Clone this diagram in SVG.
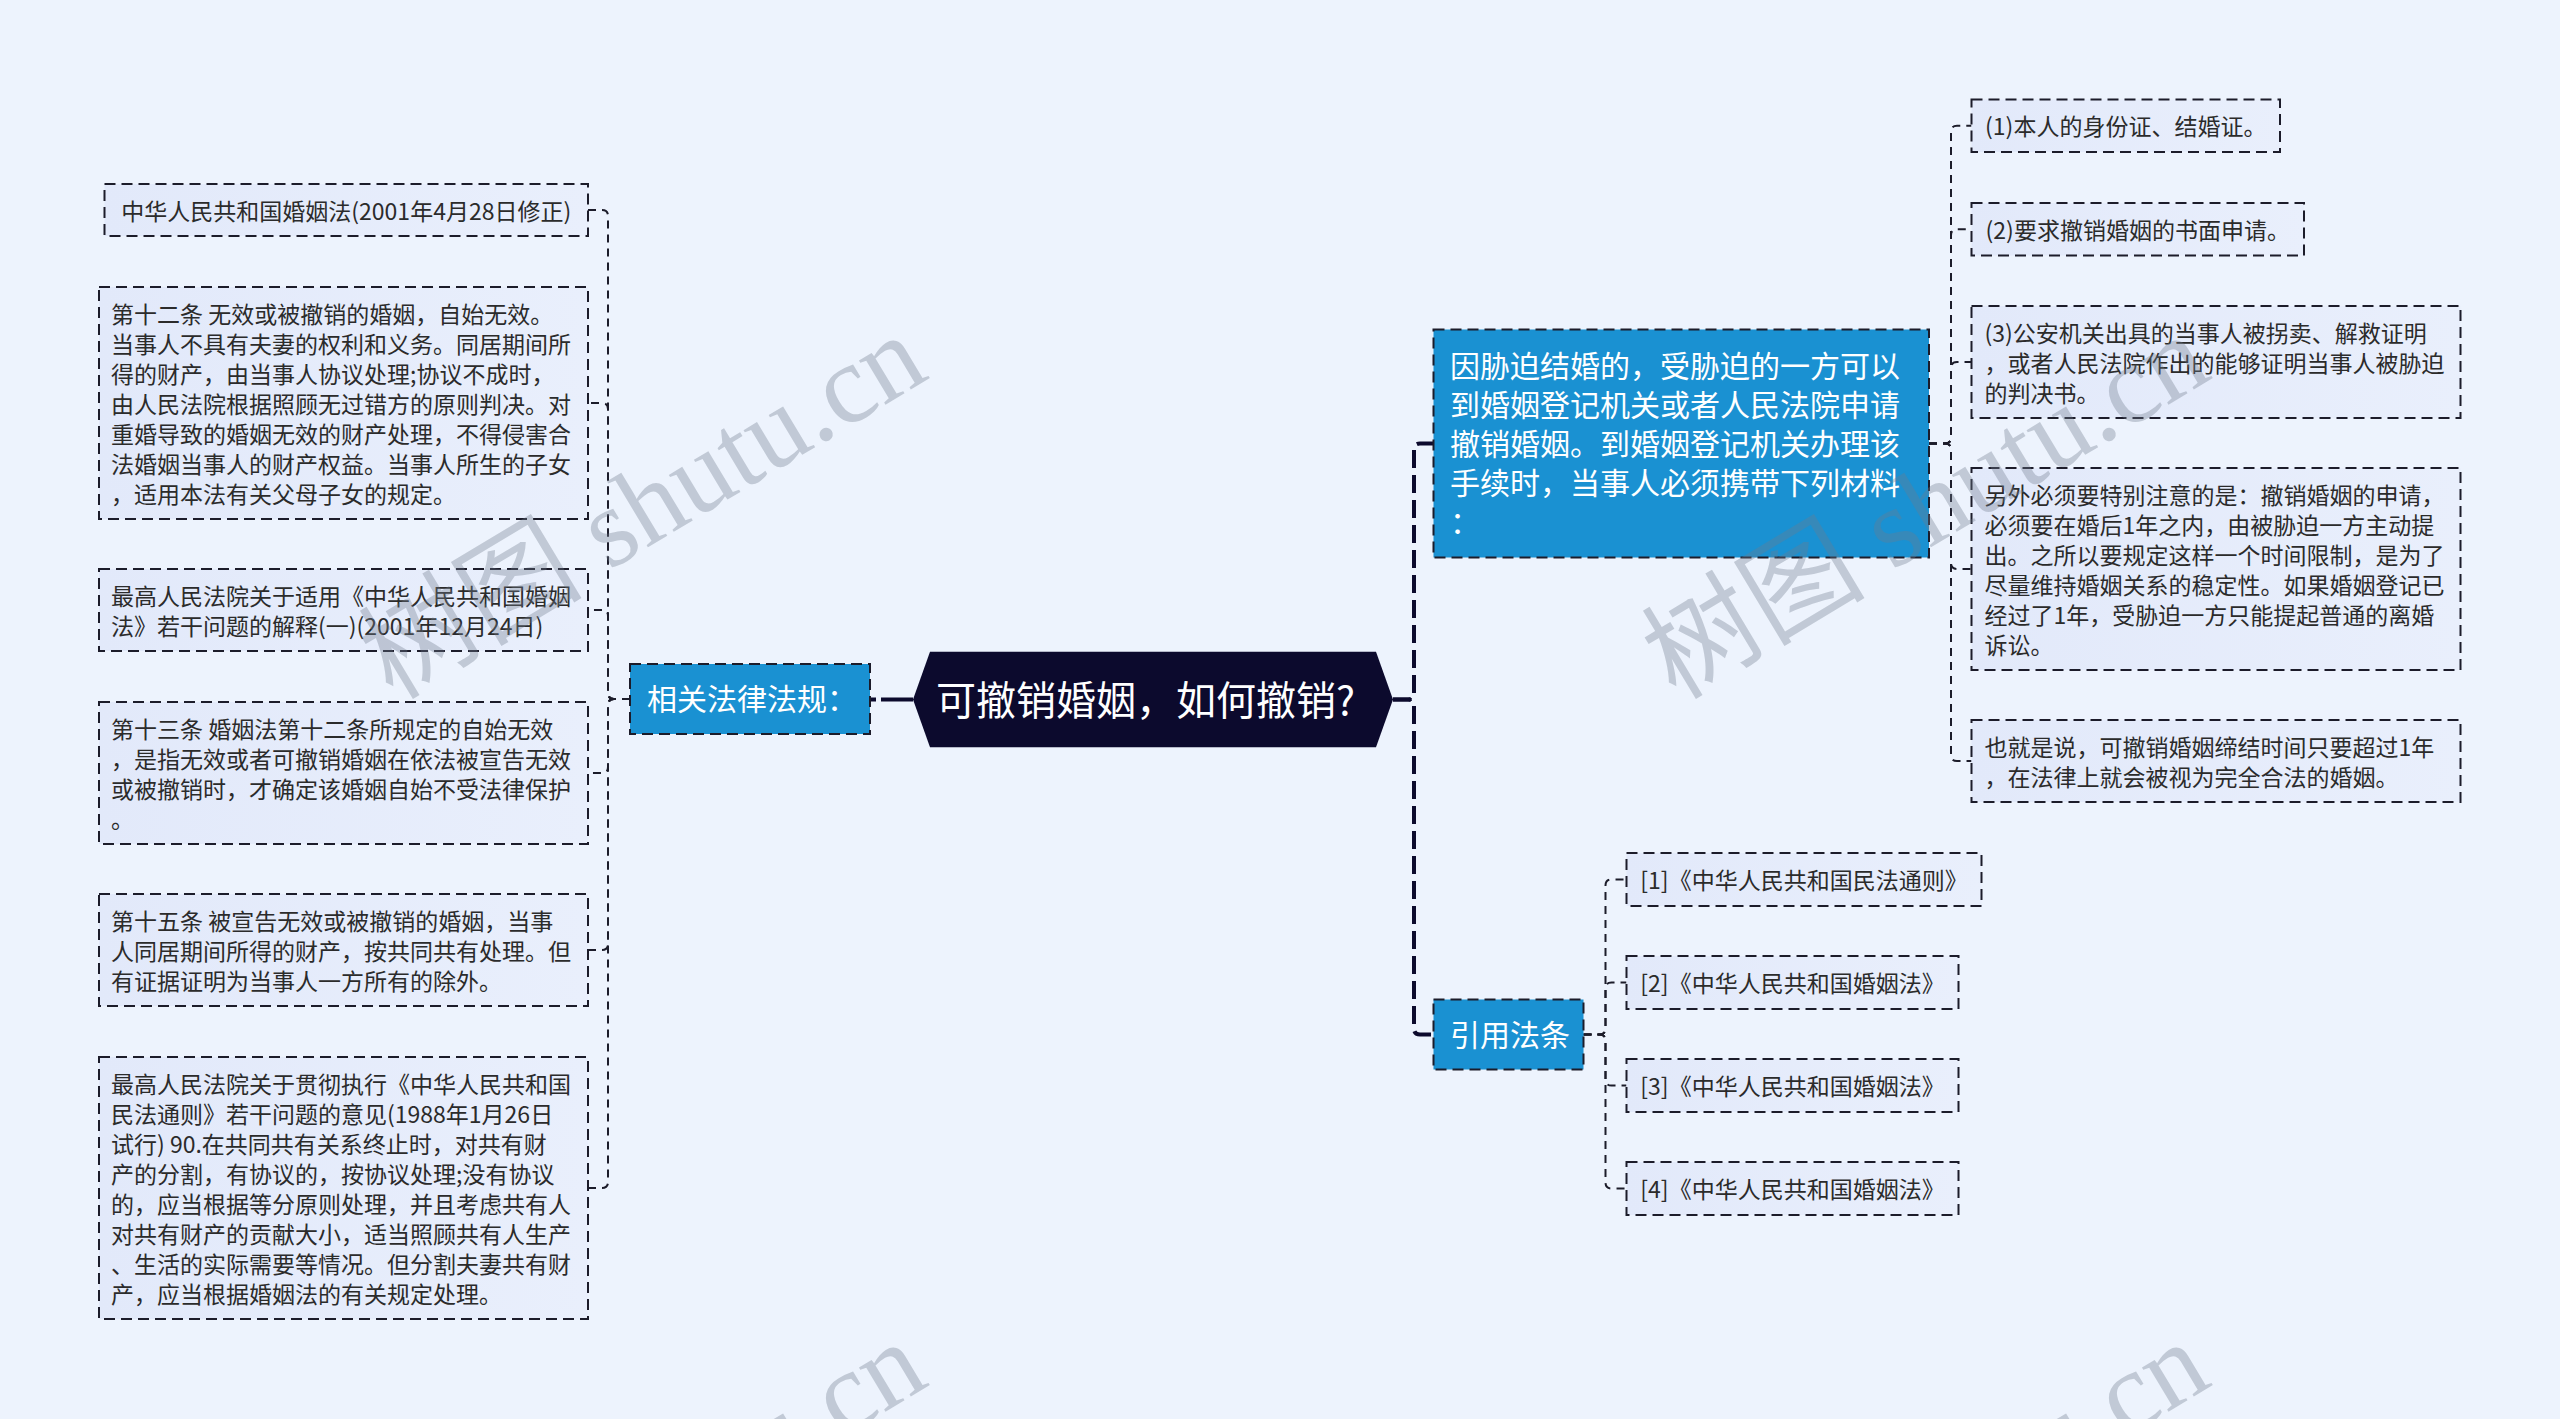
<svg xmlns="http://www.w3.org/2000/svg" width="2560" height="1419" viewBox="0 0 2560 1419">
<defs>
<linearGradient id="leafFill" x1="0" y1="0" x2="1" y2="0">
<stop offset="0" stop-color="#e2e9fa"/>
<stop offset="1" stop-color="#e9effc"/>
</linearGradient>
<style>
.bg{fill:#edf3fd}
.wm{font-family:"Liberation Serif","Noto Sans CJK SC",serif;font-size:112px;fill:#6f7a8c;fill-opacity:0.35}
.leaf{fill:url(#leafFill);stroke:#1c1c2a;stroke-width:2;stroke-dasharray:11 6}
.blue{fill:#1a91d2;stroke:#1c1c2a;stroke-width:2;stroke-dasharray:11 6}
.root{fill:#0c0a2d}
.lt{font-family:"Noto Sans CJK SC","Noto Sans",sans-serif;font-size:23px;fill:#2b2b2b}
.bt{font-family:"Noto Sans CJK SC","Noto Sans",sans-serif;font-size:30px;fill:#ffffff}
.rt{font-family:"Noto Sans CJK SC","Noto Sans",sans-serif;font-size:40px;fill:#ffffff}
.thin{fill:none;stroke:#1c1c2a;stroke-width:2;stroke-dasharray:8 6}
.thick{fill:none;stroke:#0c0a2d;stroke-width:4}
</style>
</defs>
<rect class="bg" x="0" y="0" width="2560" height="1419"/>

<g id="connectors">
<path class="thick" stroke-dasharray="32 5" d="M913,699.5 H870"/>
<path class="thick" stroke-dasharray="18 7" d="M1393,699.5 H1408 Q1414,699.5 1414,693.5 V449.5 Q1414,443.5 1420,443.5 H1433.5"/>
<path class="thick" stroke-dasharray="18 7" d="M1393,699.5 H1408 Q1414,699.5 1414,705.5 V1028.5 Q1414,1034.5 1420,1034.5 H1433.5"/>

<path class="thin" d="M630,699 H614 Q608,699 608,693 V216 Q608,210 602,210 H588"/>
<path class="thin" d="M630,699 H614 Q608,699 608,693 V409 Q608,403 602,403 H588"/>
<path class="thin" d="M630,699 H614 Q608,699 608,693 V616 Q608,610 602,610 H588"/>
<path class="thin" d="M630,699 H614 Q608,699 608,705 V767 Q608,773 602,773 H588"/>
<path class="thin" d="M630,699 H614 Q608,699 608,705 V944 Q608,950 602,950 H588"/>
<path class="thin" d="M630,699 H614 Q608,699 608,705 V1182 Q608,1188 602,1188 H588"/>

<path class="thin" d="M1929,443.5 H1945 Q1951,443.5 1951,437.5 V131.75 Q1951,125.75 1957,125.75 H1971.5"/>
<path class="thin" d="M1929,443.5 H1945 Q1951,443.5 1951,437.5 V235.25 Q1951,229.25 1957,229.25 H1971.5"/>
<path class="thin" d="M1929,443.5 H1945 Q1951,443.5 1951,437.5 V368 Q1951,362 1957,362 H1971.5"/>
<path class="thin" d="M1929,443.5 H1945 Q1951,443.5 1951,449.5 V563 Q1951,569 1957,569 H1971.5"/>
<path class="thin" d="M1929,443.5 H1945 Q1951,443.5 1951,449.5 V755 Q1951,761 1957,761 H1971.5"/>

<path class="thin" d="M1583.5,1034.5 H1599.5 Q1605.5,1034.5 1605.5,1028.5 V885.5 Q1605.5,879.5 1611.5,879.5 H1626.5"/>
<path class="thin" d="M1583.5,1034.5 H1599.5 Q1605.5,1034.5 1605.5,1028.5 V988.5 Q1605.5,982.5 1611.5,982.5 H1626.5"/>
<path class="thin" d="M1583.5,1034.5 H1599.5 Q1605.5,1034.5 1605.5,1040.5 V1079.5 Q1605.5,1085.5 1611.5,1085.5 H1626.5"/>
<path class="thin" d="M1583.5,1034.5 H1599.5 Q1605.5,1034.5 1605.5,1040.5 V1182.5 Q1605.5,1188.5 1611.5,1188.5 H1626.5"/>
</g>

<g id="root">
<polygon class="root" points="913,699.5 930,651.7 1376,651.7 1393,699.5 1376,747.3 930,747.3"/>
<text class="rt" x="936" y="714.7">可撤销婚姻，如何撤销?</text>
</g>

<g id="n-xiangguan">
<rect class="blue" x="630" y="664" width="240" height="70"/>
<text class="bt" x="647" y="710.4">相关法律法规：</text>
</g>

<g id="n-l1">
<rect class="leaf" x="104.5" y="184" width="483.5" height="52"/>
<text class="lt" x="346.25" y="219.5" text-anchor="middle">中华人民共和国婚姻法(2001年4月28日修正)</text>
</g>

<g id="n-l2">
<rect class="leaf" x="99" y="287" width="489" height="232"/>
<text class="lt">
<tspan x="111" y="322.5">第十二条 无效或被撤销的婚姻，自始无效。</tspan>
<tspan x="111" y="352.5">当事人不具有夫妻的权利和义务。同居期间所</tspan>
<tspan x="111" y="382.5">得的财产，由当事人协议处理;协议不成时，</tspan>
<tspan x="111" y="412.5">由人民法院根据照顾无过错方的原则判决。对</tspan>
<tspan x="111" y="442.5">重婚导致的婚姻无效的财产处理，不得侵害合</tspan>
<tspan x="111" y="472.5">法婚姻当事人的财产权益。当事人所生的子女</tspan>
<tspan x="111" y="502.5">，适用本法有关父母子女的规定。</tspan>
</text>
</g>

<g id="n-l3">
<rect class="leaf" x="99" y="569" width="489" height="82"/>
<text class="lt">
<tspan x="111" y="604.5">最高人民法院关于适用《中华人民共和国婚姻</tspan>
<tspan x="111" y="634.5">法》若干问题的解释(一)(2001年12月24日)</tspan>
</text>
</g>

<g id="n-l4">
<rect class="leaf" x="99" y="702" width="489" height="142"/>
<text class="lt">
<tspan x="111" y="737.5">第十三条 婚姻法第十二条所规定的自始无效</tspan>
<tspan x="111" y="767.5">，是指无效或者可撤销婚姻在依法被宣告无效</tspan>
<tspan x="111" y="797.5">或被撤销时，才确定该婚姻自始不受法律保护</tspan>
<tspan x="111" y="827.5">。</tspan>
</text>
</g>

<g id="n-l5">
<rect class="leaf" x="99" y="894" width="489" height="112"/>
<text class="lt">
<tspan x="111" y="929.5">第十五条 被宣告无效或被撤销的婚姻，当事</tspan>
<tspan x="111" y="959.5">人同居期间所得的财产，按共同共有处理。但</tspan>
<tspan x="111" y="989.5">有证据证明为当事人一方所有的除外。</tspan>
</text>
</g>

<g id="n-l6">
<rect class="leaf" x="99" y="1057" width="489" height="262"/>
<text class="lt">
<tspan x="111" y="1092.5">最高人民法院关于贯彻执行《中华人民共和国</tspan>
<tspan x="111" y="1122.5">民法通则》若干问题的意见(1988年1月26日</tspan>
<tspan x="111" y="1152.5">试行) 90.在共同共有关系终止时，对共有财</tspan>
<tspan x="111" y="1182.5">产的分割，有协议的，按协议处理;没有协议</tspan>
<tspan x="111" y="1212.5">的，应当根据等分原则处理，并且考虑共有人</tspan>
<tspan x="111" y="1242.5">对共有财产的贡献大小，适当照顾共有人生产</tspan>
<tspan x="111" y="1272.5">、生活的实际需要等情况。但分割夫妻共有财</tspan>
<tspan x="111" y="1302.5">产，应当根据婚姻法的有关规定处理。</tspan>
</text>
</g>

<g id="n-xiepo">
<rect class="blue" x="1433.5" y="329.5" width="495.5" height="228"/>
<text class="bt">
<tspan x="1450" y="376.9">因胁迫结婚的，受胁迫的一方可以</tspan>
<tspan x="1450" y="415.9">到婚姻登记机关或者人民法院申请</tspan>
<tspan x="1450" y="454.9">撤销婚姻。到婚姻登记机关办理该</tspan>
<tspan x="1450" y="493.9">手续时，当事人必须携带下列材料</tspan>
<tspan x="1450" y="532.9">：</tspan>
</text>
</g>

<g id="n-r1">
<rect class="leaf" x="1971.5" y="99.5" width="308.5" height="52.5"/>
<text class="lt" x="2125.75" y="135.25" text-anchor="middle">(1)本人的身份证、结婚证。</text>
</g>

<g id="n-r2">
<rect class="leaf" x="1971.5" y="203" width="332.5" height="52.5"/>
<text class="lt" x="2137.75" y="238.75" text-anchor="middle">(2)要求撤销婚姻的书面申请。</text>
</g>

<g id="n-r3">
<rect class="leaf" x="1971.5" y="306" width="489" height="112"/>
<text class="lt">
<tspan x="1984.5" y="341.5">(3)公安机关出具的当事人被拐卖、解救证明</tspan>
<tspan x="1984.5" y="371.5">，或者人民法院作出的能够证明当事人被胁迫</tspan>
<tspan x="1984.5" y="401.5">的判决书。</tspan>
</text>
</g>

<g id="n-r4">
<rect class="leaf" x="1971.5" y="468" width="489" height="202"/>
<text class="lt">
<tspan x="1984.5" y="503.5">另外必须要特别注意的是：撤销婚姻的申请，</tspan>
<tspan x="1984.5" y="533.5">必须要在婚后1年之内，由被胁迫一方主动提</tspan>
<tspan x="1984.5" y="563.5">出。之所以要规定这样一个时间限制，是为了</tspan>
<tspan x="1984.5" y="593.5">尽量维持婚姻关系的稳定性。如果婚姻登记已</tspan>
<tspan x="1984.5" y="623.5">经过了1年，受胁迫一方只能提起普通的离婚</tspan>
<tspan x="1984.5" y="653.5">诉讼。</tspan>
</text>
</g>

<g id="n-r5">
<rect class="leaf" x="1971.5" y="720" width="489" height="82"/>
<text class="lt">
<tspan x="1984.5" y="755.5">也就是说，可撤销婚姻缔结时间只要超过1年</tspan>
<tspan x="1984.5" y="785.5">，在法律上就会被视为完全合法的婚姻。</tspan>
</text>
</g>

<g id="n-yinyong">
<rect class="blue" x="1433.5" y="999.5" width="150" height="70"/>
<text class="bt" x="1450" y="1045.9">引用法条</text>
</g>

<g id="n-c1">
<rect class="leaf" x="1626.5" y="853" width="355" height="53"/>
<text class="lt" x="1804" y="889" text-anchor="middle">[1]《中华人民共和国民法通则》</text>
</g>
<g id="n-c2">
<rect class="leaf" x="1626.5" y="956" width="332" height="53"/>
<text class="lt" x="1792.5" y="992" text-anchor="middle">[2]《中华人民共和国婚姻法》</text>
</g>
<g id="n-c3">
<rect class="leaf" x="1626.5" y="1059" width="332" height="53"/>
<text class="lt" x="1792.5" y="1095" text-anchor="middle">[3]《中华人民共和国婚姻法》</text>
</g>
<g id="n-c4">
<rect class="leaf" x="1626.5" y="1162" width="332" height="53"/>
<text class="lt" x="1792.5" y="1198" text-anchor="middle">[4]《中华人民共和国婚姻法》</text>
</g>

<g id="watermarks">
<text class="wm" text-anchor="middle" transform="translate(662,539) rotate(-31)">树图 shutu.cn</text>
<text class="wm" text-anchor="middle" transform="translate(1945,539) rotate(-31)">树图 shutu.cn</text>
<text class="wm" text-anchor="middle" transform="translate(662,1546) rotate(-31)">树图 shutu.cn</text>
<text class="wm" text-anchor="middle" transform="translate(1945,1546) rotate(-31)">树图 shutu.cn</text>
</g>
</svg>
